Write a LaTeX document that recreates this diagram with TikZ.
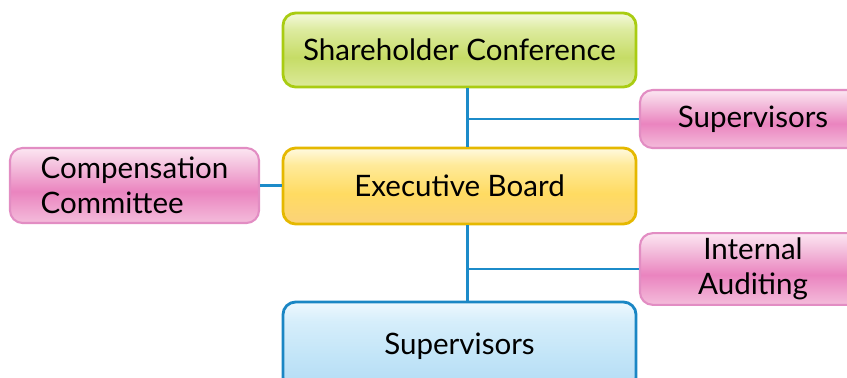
\documentclass[tikz,border=0pt]{standalone}
\usepackage{fontspec}
\setmainfont{Lato}
\usetikzlibrary{positioning, calc}
\definecolor{linkblue}{HTML}{1C8BC9}
\definecolor{greenedge}{HTML}{A9CC12}
\definecolor{greentop}{HTML}{F4F9DC}
\definecolor{greenlight}{HTML}{DDEBA0}
\definecolor{greenmid}{HTML}{C6DC66}
\definecolor{greenbot}{HTML}{DCEA9A}
\definecolor{yellowedge}{HTML}{E5B800}
\definecolor{yellowtop}{HTML}{FFFAE0}
\definecolor{yellowlight}{HTML}{FFEA9A}
\definecolor{yellowmid}{HTML}{FFDB62}
\definecolor{yellowbot}{HTML}{FBD27A}
\definecolor{pinkedge}{HTML}{E28DC3}
\definecolor{pinktop}{HTML}{FCE6F2}
\definecolor{pinklight}{HTML}{F4C2DE}
\definecolor{pinkmid}{HTML}{EA84BF}
\definecolor{pinkbot}{HTML}{F4BCDB}
\definecolor{blueedge}{HTML}{1A86C4}
\definecolor{bluetop}{HTML}{EEF8FE}
\definecolor{bluelight}{HTML}{D6EEFB}
\definecolor{bluemid}{HTML}{C3E5F8}
\definecolor{bluebot}{HTML}{B2DBF4}
% glossy fills: bright band on top, strongest colour just under the middle
\pgfdeclareverticalshading{greengloss}{100bp}{color(0bp)=(greenbot); color(25bp)=(greenbot);
    color(45bp)=(greenmid); color(64bp)=(greenlight); color(75bp)=(greentop); color(100bp)=(greentop)}
\pgfdeclareverticalshading{yellowgloss}{100bp}{color(0bp)=(yellowbot); color(25bp)=(yellowbot);
    color(45bp)=(yellowmid); color(64bp)=(yellowlight); color(75bp)=(yellowtop); color(100bp)=(yellowtop)}
\pgfdeclareverticalshading{pinkgloss}{100bp}{color(0bp)=(pinkbot); color(25bp)=(pinkbot);
    color(46bp)=(pinkmid); color(64bp)=(pinklight); color(75bp)=(pinktop); color(100bp)=(pinktop)}
\pgfdeclareverticalshading{bluegloss}{100bp}{color(0bp)=(bluebot); color(25bp)=(bluebot);
    color(45bp)=(bluemid); color(64bp)=(bluelight); color(75bp)=(bluetop); color(100bp)=(bluetop)}
\tikzset{
        org-box/.style={
            rectangle, rounded corners=9pt, line width=2pt, text=black,
            align=center, font=\fontsize{21}{25}\selectfont
        },
        board-green/.style={
            org-box, draw=greenedge, minimum width=8.825cm, minimum height=1.85cm, shading=greengloss
        },
        board-yellow/.style={
            org-box, draw=yellowedge, minimum width=8.825cm, minimum height=1.9cm, shading=yellowgloss
        },
        board-blue/.style={
            org-box, draw=blueedge, minimum width=8.825cm, minimum height=2.2cm, shading=bluegloss
        },
        side-pink/.style={
            org-box, draw=pinkedge, line width=1.5pt, shading=pinkgloss
        },
        link/.style={draw=linkblue, line width=1.6pt},
}
\begin{document}
\begin{tikzpicture}[x=0.025cm, y=-0.025cm]

        \useasboundingbox (0,0) rectangle (847,377);
        \clip (0,0) rectangle (847,377);

        % DRAW NODES (main column first, side boxes hang off it)
        \node[board-green]  (share) at (459.5,50)                {Shareholder Conference};
        \node[board-yellow] (exec)  at ($(share)+(0,136)$)       {Executive Board};
        \node[board-blue]   (superb) at ($(share)+(0,296)$)      {Supervisors};
        \node[side-pink, minimum width=5.65cm, minimum height=1.45cm]
                            (supert) at ($(share)+(293.5,69)$)   {Supervisors};
        \node[side-pink, minimum width=5.65cm, minimum height=1.7cm]
                            (audit) at ($(share)+(293.5,219)$)   {Internal\\Auditing};
        \node[side-pink, minimum width=6.225cm, minimum height=1.875cm, align=left]
                            (comp)  at ($(share)+(-325,135.5)$)  {Compensation\\Committee};

        % TRUNK COORDINATES
        \coordinate (trunk1) at ($(share.south)+(8,0)$);
        \coordinate (trunk2) at ($(exec.south)+(8,0)$);

        % CONNECT UPPER PART
        \draw [link] (trunk1) -- (trunk1 |- exec.north);
        \draw [link] (trunk1 |- supert.west) -- (supert.west);

        % CONNECT LOWER PART
        \draw [link] (trunk2) -- (trunk2 |- superb.north);
        \draw [link] (trunk2 |- audit.west) -- (audit.west);

        % CONNECT COMMITTEE
        \draw [link] (comp.east) -- (comp.east -| exec.west);

    \end{tikzpicture}
\end{document}
